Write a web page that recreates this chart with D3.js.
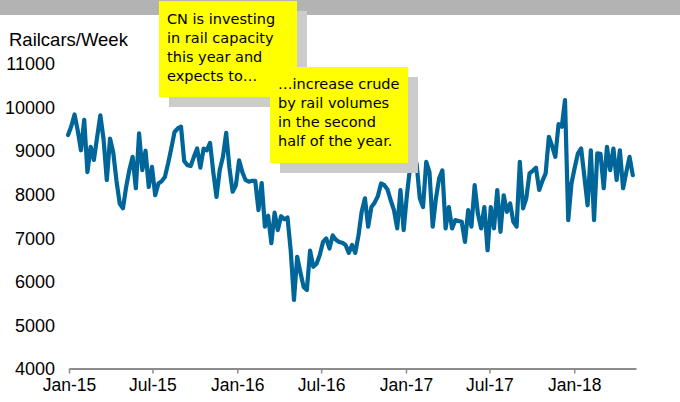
<!DOCTYPE html>
<html>
<head>
<meta charset="utf-8">
<script src="https://cdn.jsdelivr.net/npm/d3@7"></script>
<style>
  body { margin: 0; background: #fff; }
  svg { display: block; font-family: Arial, "Liberation Sans", sans-serif; }
</style>
</head>
<body>
<div id="container"></div>
<script>
// weekly crude-by-rail carloads, first week ends 30 Dec 2014
let firstWeek = new Date(2014, 11, 30);
let railcars = [
  9350, 9550, 9820, 9450, 9000, 9700, 8500, 9080, 8780, 9300,
  9800, 9250, 8320, 9270, 8950, 8300, 7780, 7670, 8160, 8550,
  8850, 8130, 9390, 8545, 8990, 8160, 8620, 7970, 8240, 8290,
  8390, 8700, 9050, 9420, 9500, 9540, 8750, 8660, 8640, 8850,
  9040, 8600, 9040, 9000, 9170, 8500, 7930, 8550, 8850, 9400,
  8600, 8050, 8200, 8770, 8500, 8320, 8280, 8300, 8300, 7630,
  8250, 7250, 7500, 6870, 7570, 7170, 7490, 7420, 7460, 6700,
  5570, 6560, 6200, 5870, 5800, 6700, 6330, 6400, 6600, 6900,
  6980, 6750, 7050, 6950, 6900, 6880, 6830, 6650, 6830, 6650,
  7050, 7600, 7900, 7250, 7700, 7800, 7950, 8240, 8200, 8100,
  7850, 7630, 7210, 8090, 7170, 7970, 8620, 8740, 8700, 7900,
  7700, 8735, 8500, 7250, 7900, 8360, 8540, 7210, 7700, 7210,
  7400, 7380, 7360, 6900, 7630, 7250, 8200, 7550, 7210, 7700,
  6710, 7700, 7210, 8090, 7130, 7970, 7590, 7780, 7360, 7250,
  8735, 7670, 7900, 8470, 8530, 8600, 8090, 8300, 8470, 9310,
  9100, 8850, 9600, 9540, 10150, 7400, 8240, 8600, 8930, 9040,
  8400, 7740, 9000, 7400, 8930, 8920, 8130, 9080, 8545, 9040,
  8320, 9000, 8130, 8500, 8850, 8430
];

let yTicks = [4000, 5000, 6000, 7000, 8000, 9000, 10000, 11000];
let xTicks = ["2015-01-01", "2015-07-01", "2016-01-01", "2016-07-01",
              "2017-01-01", "2017-07-01", "2018-01-01"];
let yTitle = "Railcars/Week";

let note1 = ["CN is investing", "in rail capacity", "this year and", "expects to…"];
let note2 = ["…increase crude", "by rail volumes", "in the second", "half of the year."];

///////////////////////////

let w = 680;
let h = 402;
let lineColor = "#006699";

let data = railcars.map(function(v, i){
  return { date: d3.timeDay.offset(firstWeek, i * 7), value: v };
});

let viz = d3.select("#container").append("svg")
    .attr("width", w)
    .attr("height", h)
;

let xScale = d3.scaleTime()
  .domain([new Date(2015, 0, 1), new Date(2018, 4, 15)])
  .range([69, 636]);

let yScale = d3.scaleLinear()
  .domain([4000, 11000])
  .range([368.5, 63]);

// grey band along the top
viz.append("rect")
  .attr("x", 0).attr("y", 0)
  .attr("width", w).attr("height", 15)
  .attr("fill", "#b3b3b3");

// x axis
let xAxis = d3.axisBottom(xScale)
  .tickValues(xTicks.map(d3.timeParse("%Y-%m-%d")))
  .tickFormat(d3.timeFormat("%b-%y"))
  .tickSizeInner(5)
  .tickSizeOuter(0);

let gx = viz.append("g")
  .attr("transform", "translate(0,368.5)")
  .call(xAxis);
gx.select(".domain").attr("stroke", "#8c8c8c").attr("stroke-width", 2);
gx.selectAll(".tick line").attr("stroke", "#8c8c8c").attr("stroke-width", 1.5);
gx.selectAll(".tick text")
  .attr("y", 22)
  .attr("dy", 0)
  .attr("fill", "#000")
  .style("font-size", "17.5px")
  .style("font-family", "Arial, 'Liberation Sans', sans-serif");

// y axis: labels only
let yAxis = d3.axisLeft(yScale)
  .tickValues(yTicks)
  .tickFormat(d3.format("d"))
  .tickSize(0)
  .tickPadding(0);

let gy = viz.append("g")
  .attr("transform", "translate(55,0)")
  .call(yAxis);
gy.select(".domain").remove();
gy.selectAll(".tick text")
  .attr("fill", "#000")
  .attr("dy", "0.36em")
  .style("font-size", "18px")
  .style("font-family", "Arial, 'Liberation Sans', sans-serif");

viz.append("text")
  .attr("x", 9)
  .attr("y", 46)
  .style("font-size", "18.5px")
  .text(yTitle);

// the series
let line = d3.line()
  .x(function(d){ return xScale(d.date); })
  .y(function(d){ return yScale(d.value); });

viz.append("path")
  .datum(data)
  .attr("d", line)
  .attr("fill", "none")
  .attr("stroke", lineColor)
  .attr("stroke-width", 4.2)
  .attr("stroke-linejoin", "round")
  .attr("stroke-linecap", "round");

// sticky notes
function drawNote(x, y, bw, bh, lines, tx, firstBaseline){
  viz.append("rect")
    .attr("x", x + 10).attr("y", y + 10)
    .attr("width", bw).attr("height", bh)
    .attr("fill", "#cccccc");
  viz.append("rect")
    .attr("x", x).attr("y", y)
    .attr("width", bw).attr("height", bh)
    .attr("fill", "#ffff00");
  let t = viz.append("text")
    .style("font-family", "'Comic Sans MS', 'DejaVu Sans', sans-serif")
    .style("font-size", "14.5px")
    .attr("fill", "#000");
  lines.forEach(function(s, i){
    t.append("tspan")
      .attr("x", tx)
      .attr("y", firstBaseline + i * 19)
      .text(s);
  });
}

drawNote(159, 1, 138, 96, note1, 167, 23.5);
drawNote(270, 67, 138, 96, note2, 278, 89);
</script>
</body>
</html>
